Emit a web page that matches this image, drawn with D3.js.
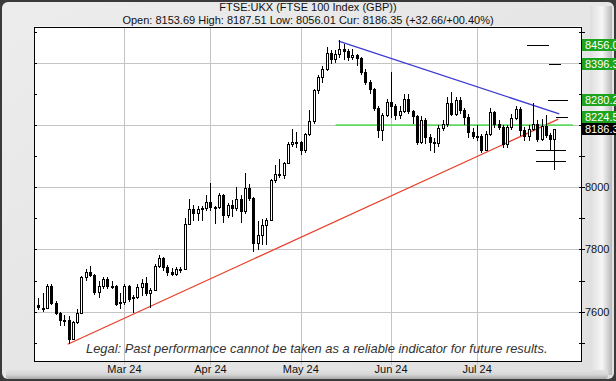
<!DOCTYPE html>
<html><head><meta charset="utf-8">
<script src="https://cdn.jsdelivr.net/npm/d3@7/dist/d3.min.js"></script>
<style>
html,body{margin:0;padding:0;background:#fff;}
svg{display:block;}
text{font-family:"Liberation Sans",Arial,sans-serif;}
</style></head>
<body>
<svg id="chart" width="616" height="381"></svg>
<script>
// ---------- DATA ----------
const title = "FTSE:UKX (FTSE 100 Index (GBP))";
const subtitle = "Open: 8153.69 High: 8187.51 Low: 8056.01 Cur: 8186.35 (+32.66/+00.40%)";
const legal = "Legal:  Past performance cannot be taken as a reliable indicator for future results.";

const dates = [
 "2024-02-02","2024-02-05","2024-02-06","2024-02-07","2024-02-08","2024-02-09","2024-02-12","2024-02-13","2024-02-14","2024-02-15",
 "2024-02-16","2024-02-19","2024-02-20","2024-02-21","2024-02-22","2024-02-23","2024-02-26","2024-02-27","2024-02-28","2024-02-29",
 "2024-03-01","2024-03-04","2024-03-05","2024-03-06","2024-03-07","2024-03-08","2024-03-11","2024-03-12","2024-03-13","2024-03-14",
 "2024-03-15","2024-03-18","2024-03-19","2024-03-20","2024-03-21","2024-03-22","2024-03-25","2024-03-26","2024-03-27","2024-03-28",
 "2024-04-02","2024-04-03","2024-04-04","2024-04-05","2024-04-08","2024-04-09","2024-04-10","2024-04-11","2024-04-12","2024-04-15",
 "2024-04-16","2024-04-17","2024-04-18","2024-04-19","2024-04-22","2024-04-23","2024-04-24","2024-04-25","2024-04-26","2024-04-29",
 "2024-04-30","2024-05-01","2024-05-02","2024-05-03","2024-05-07","2024-05-08","2024-05-09","2024-05-10","2024-05-13","2024-05-14",
 "2024-05-15","2024-05-16","2024-05-17","2024-05-20","2024-05-21","2024-05-22","2024-05-23","2024-05-24","2024-05-28","2024-05-29",
 "2024-05-30","2024-05-31","2024-06-03","2024-06-04","2024-06-05","2024-06-06","2024-06-07","2024-06-10","2024-06-11","2024-06-12",
 "2024-06-13","2024-06-14","2024-06-17","2024-06-18","2024-06-19","2024-06-20","2024-06-21","2024-06-24","2024-06-25","2024-06-26",
 "2024-06-27","2024-06-28","2024-07-01","2024-07-02","2024-07-03","2024-07-04","2024-07-05","2024-07-08","2024-07-09","2024-07-10",
 "2024-07-11","2024-07-12","2024-07-15","2024-07-16","2024-07-17","2024-07-18","2024-07-19","2024-07-22","2024-07-23","2024-07-24",
 "2024-07-25"];

const opens = [
 7622,7610,7612,7681,7628,7595,7572,7573,7512,7568,
 7597,7711,7728,7719,7662,7684,7706,7684,7683,7632,
 7630,7682,7643,7646,7679,7692,7659,7669,7747,7772,
 7743,7727,7722,7738,7737,7882,7930,7917,7931,7932,
 7953,7935,7937,7975,7911,7943,7934,7961,7923,7996,
 7965,7820,7847,7877,7896,8024,8044,8041,8079,8139,
 8147,8144,8121,8172,8213,8313,8354,8381,8433,8414,
 8428,8446,8439,8420,8424,8416,8370,8339,8317,8254,
 8183,8231,8275,8262,8232,8246,8285,8245,8228,8147,
 8215,8163,8146,8142,8191,8205,8272,8237,8281,8247,
 8225,8179,8164,8166,8121,8171,8241,8204,8193,8140,
 8193,8223,8253,8183,8165,8187,8204,8155,8198,8167,
 8153.69];
const highs = [
 7643,7659,7690,7688,7634,7600,7590,7586,7570,7610,
 7716,7738,7748,7722,7700,7712,7712,7699,7686,7660,
 7690,7686,7655,7690,7705,7710,7675,7752,7782,7776,
 7750,7740,7745,7745,7900,7961,7942,7940,7940,7975,
 8013,7940,7980,7978,7950,7960,8002,7975,8045,8010,
 7968,7893,7898,7900,8025,8071,8091,8082,8145,8186,
 8178,8150,8175,8249,8315,8360,8390,8450,8440,8440,
 8474,8460,8445,8445,8430,8420,8380,8345,8320,8260,
 8240,8285,8372,8268,8260,8300,8300,8250,8232,8230,
 8222,8170,8160,8200,8215,8290,8305,8290,8290,8255,
 8235,8190,8200,8170,8180,8255,8245,8215,8200,8200,
 8235,8262,8258,8195,8200,8270,8215,8220,8232,8175,
 8187.51];
const lows = [
 7605,7598,7608,7620,7590,7555,7555,7495,7508,7560,
 7595,7700,7710,7655,7645,7672,7672,7672,7618,7610,
 7620,7630,7597,7640,7650,7650,7611,7665,7740,7730,
 7715,7715,7715,7725,7735,7880,7890,7890,7890,7925,
 7925,7882,7930,7885,7900,7905,7925,7884,7915,7955,
 7791,7797,7815,7814,7890,8015,8030,8025,8075,8130,
 8125,8105,8110,8165,8205,8300,8335,8375,8395,8400,
 8415,8410,8405,8410,8390,8360,8330,8300,8245,8160,
 8150,8225,8222,8215,8220,8240,8235,8205,8135,8140,
 8140,8115,8110,8130,8180,8195,8230,8230,8235,8200,
 8160,8155,8150,8110,8115,8165,8190,8185,8125,8125,
 8185,8215,8165,8150,8150,8180,8145,8150,8160,8120,
 8056.01];
const closes = [
 7615,7613,7681,7628,7595,7573,7573,7512,7568,7597,
 7711,7728,7719,7662,7684,7706,7684,7683,7625,7630,
 7682,7640,7646,7679,7692,7659,7669,7747,7772,7743,
 7727,7722,7738,7737,7882,7930,7917,7931,7932,7953,
 7935,7937,7975,7911,7943,7934,7961,7923,7996,7965,
 7820,7847,7877,7896,8024,8044,8041,8079,8139,8147,
 8144,8121,8172,8213,8313,8354,8381,8433,8414,8428,
 8446,8439,8420,8424,8416,8370,8339,8317,8254,8183,
 8231,8275,8262,8232,8246,8285,8245,8228,8147,8215,
 8163,8146,8142,8191,8205,8272,8237,8281,8247,8225,
 8179,8164,8166,8121,8171,8241,8204,8193,8140,8193,
 8223,8253,8183,8165,8187,8204,8155,8198,8167,8153.69,
 8186.35];

const monthLabels = ["Mar 24","Apr 24","May 24","Jun 24","Jul 24"];
const monthFirstDays = ["2024-03-01","2024-04-02","2024-05-01","2024-06-03","2024-07-01"];
const yTickValues = [7500,7600,7700,7800,7900,8000,8100,8200,8300,8400,8500];
const yGridValues = [7600,7800,8000,8200,8400];
const yLabelValues = [7600,7800,8000];   // 8200 / 8400 sit under the price tags

// trend lines: [trading-day index (0 = first date), value]
const redTrend  = [[6.8, 7495], [120.9, 8219]];
const blueTrend = [[69.8, 8470], [121.1, 8236]];
const greenLevel = {from: 69.1, to: 124.3, value: 8200};
// target levels drawn right of the last candle: value, start/end trading-day index
const targetValues = [8456.0, 8396.3, 8280.2, 8224.5, 8119, 8085];
const targetFrom   = [113.6, 118.8, 118.6, 120.4, 115.8, 115.8];
const targetTo     = [118.8, 121.4, 123.2, 123.2, 122.6, 122.6];
// price labels on the right
const tagValues = [8456.0, 8396.3, 8280.2, 8224.5, 8186.35];
const tagTexts  = ["8456.0", "8396.3", "8280.2", "8224.5", "8186.3"];
const tagKinds  = ["target","target","target","target","current"];

// ---------- LAYOUT ----------
const W = 616, H = 381;
const plot = {left: 34.2, right: 582, top: 26.5, bottom: 362};
const svg = d3.select("#chart");

const x = d3.scaleLinear().domain([-1, 126.4]).range([plot.left, plot.right]);
const y = d3.scaleLinear().domain([7438, 8517]).range([plot.bottom, plot.top]);

// ---------- BACKGROUND / FRAME ----------
const defs = svg.append("defs");
const gR = defs.append("linearGradient").attr("id","gR").attr("x1","0").attr("x2","1").attr("y1","0").attr("y2","0");
gR.append("stop").attr("offset","0").attr("stop-color","#dedede");
gR.append("stop").attr("offset","0.55").attr("stop-color","#f6f6f6");
gR.append("stop").attr("offset","1").attr("stop-color","#b8b8b8");
const gB = defs.append("linearGradient").attr("id","gB").attr("x1","0").attr("x2","0").attr("y1","0").attr("y2","1");
gB.append("stop").attr("offset","0").attr("stop-color","#e2e2e2");
gB.append("stop").attr("offset","0.5").attr("stop-color","#d6d6d6");
gB.append("stop").attr("offset","1").attr("stop-color","#a8a8a8");
const gBg = defs.append("linearGradient").attr("id","gBg").attr("x1","0").attr("x2","1").attr("y1","0").attr("y2","1");
gBg.append("stop").attr("offset","0").attr("stop-color","#ececec");
gBg.append("stop").attr("offset","1").attr("stop-color","#e0e0e0");

svg.append("rect").attr("x",0).attr("y",0).attr("width",W).attr("height",H).attr("fill","#3a3a3a");
svg.append("rect").attr("x",2).attr("y",2).attr("width",W-4).attr("height",H-4).attr("rx",6).attr("fill","url(#gBg)");
svg.append("rect").attr("x",590).attr("y",6).attr("width",22).attr("height",H-12).attr("fill","url(#gR)");
svg.append("rect").attr("x",6).attr("y",370).attr("width",W-14).attr("height",9).attr("fill","url(#gB)").attr("rx",3);

// ---------- TITLES ----------
svg.append("text").attr("x",308).attr("y",10.5).attr("text-anchor","middle")
  .attr("font-size",11).attr("fill","#111").text(title);
svg.append("text").attr("x",308).attr("y",24).attr("text-anchor","middle")
  .attr("font-size",11).attr("fill","#111").text(subtitle);

// ---------- PLOT AREA ----------
svg.append("rect").attr("x",plot.left).attr("y",plot.top)
  .attr("width",plot.right-plot.left).attr("height",plot.bottom-plot.top).attr("fill","#fff");

const idxOf = d => dates.indexOf(d);
const grid = svg.append("g").attr("stroke","#c4c4c4").attr("stroke-width",1).attr("shape-rendering","crispEdges");
yGridValues.forEach(v => {
  grid.append("line").attr("x1",plot.left).attr("x2",plot.right)
    .attr("y1",Math.round(y(v))+0.5).attr("y2",Math.round(y(v))+0.5);
});
monthFirstDays.forEach(d => {
  const xx = Math.round(x(idxOf(d)))+0.5;
  grid.append("line").attr("x1",xx).attr("x2",xx).attr("y1",plot.top).attr("y2",plot.bottom+3);
});

// legal text
svg.append("text").attr("x",86).attr("y",352.5).attr("font-size",12.9).attr("font-style","italic")
  .attr("fill","#333").text(legal);

// trend lines
const line = d3.line().x(d => x(d[0])).y(d => y(d[1]));
svg.append("path").attr("d",line(redTrend)).attr("stroke","#e8402a").attr("stroke-width",1.3).attr("fill","none");
svg.append("path").attr("d",line(blueTrend)).attr("stroke","#3a3ad0").attr("stroke-width",1.3).attr("fill","none");
svg.append("line").attr("x1",x(greenLevel.from)).attr("x2",x(greenLevel.to))
  .attr("y1",y(greenLevel.value)).attr("y2",y(greenLevel.value))
  .attr("stroke","#5fd85f").attr("stroke-width",1.8);

// candles
const cg = svg.append("g").attr("shape-rendering","crispEdges");
dates.forEach((d,i) => {
  const cx = Math.round(x(i));
  const o = opens[i], c = closes[i];
  cg.append("line").attr("x1",cx+0.5).attr("x2",cx+0.5)
    .attr("y1",y(highs[i])).attr("y2",y(lows[i])).attr("stroke","#000").attr("stroke-width",1);
  const top = Math.round(y(Math.max(o,c))), bot = Math.round(y(Math.min(o,c)));
  cg.append("rect").attr("x",cx-0.5).attr("y",top+0.5).attr("width",2).attr("height",Math.max(bot-top,1))
    .attr("fill", c >= o ? "#fff" : "#000").attr("stroke","#000").attr("stroke-width",1);
});

// target lines
const tg = svg.append("g").attr("shape-rendering","crispEdges");
targetValues.forEach((v,k) => {
  const yy = Math.round(y(v))+0.5;
  tg.append("line").attr("x1",x(targetFrom[k])).attr("x2",x(targetTo[k]))
    .attr("y1",yy).attr("y2",yy).attr("stroke","#000").attr("stroke-width",1);
});

// frame
svg.append("rect").attr("x",plot.left+0.5).attr("y",plot.top+0.5)
  .attr("width",plot.right-plot.left-1).attr("height",plot.bottom-plot.top-1)
  .attr("fill","none").attr("stroke","#000").attr("stroke-width",1).attr("shape-rendering","crispEdges");

// y ticks: inner-left and crossing right axis
const tk = svg.append("g").attr("stroke","#000").attr("shape-rendering","crispEdges");
yTickValues.forEach(v => {
  const yy = Math.round(y(v))+0.5;
  tk.append("line").attr("x1",plot.left).attr("x2",plot.left+3).attr("y1",yy).attr("y2",yy);
  tk.append("line").attr("x1",plot.right-3).attr("x2",plot.right+3).attr("y1",yy).attr("y2",yy);
});
// right axis labels
yLabelValues.forEach(v => {
  svg.append("text").attr("x",585).attr("y",y(v)+4).attr("font-size",11).attr("fill","#111").text(v);
});
// x labels
monthFirstDays.forEach((d,k) => {
  svg.append("text").attr("x",x(idxOf(d))).attr("y",373).attr("text-anchor","middle")
    .attr("font-size",11).attr("fill","#111").text(monthLabels[k]);
});

// price tags
tagValues.forEach((v,k) => {
  const yy = y(v);
  svg.append("rect").attr("x",582).attr("y",Math.round(yy)-6).attr("width",34).attr("height",12)
    .attr("fill", tagKinds[k]==="current" ? "#000" : "#1ea31e");
  svg.append("text").attr("x",585).attr("y",yy+4).attr("font-size",11).attr("fill","#fff").text(tagTexts[k]);
});
</script>
</body></html>
